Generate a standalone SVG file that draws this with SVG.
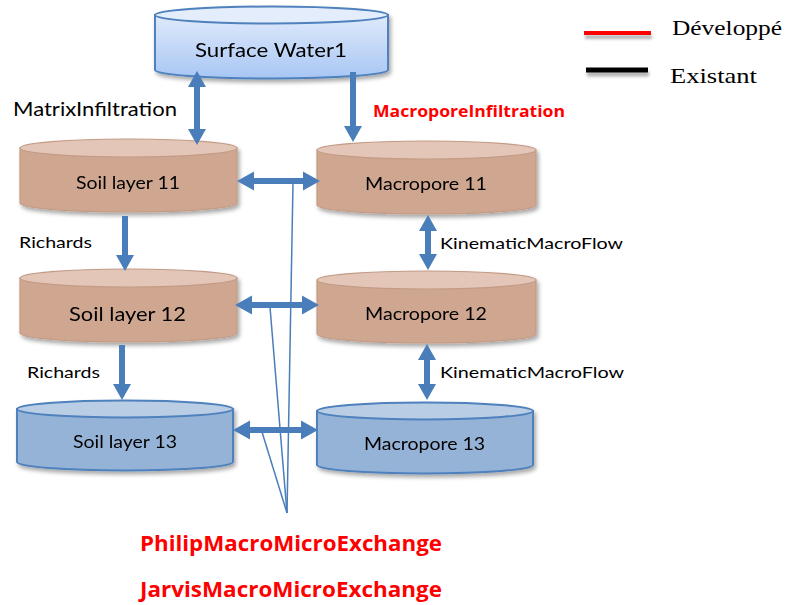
<svg xmlns="http://www.w3.org/2000/svg" width="787" height="605" viewBox="0 0 787 605">
<defs>
<linearGradient id="gSurf" x1="0" y1="0" x2="0" y2="1">
<stop offset="0" stop-color="#dfeafb"/>
<stop offset="1" stop-color="#a8c6f4"/>
</linearGradient>
<filter id="sh" x="-10%" y="-20%" width="125%" height="150%">
<feGaussianBlur in="SourceAlpha" stdDeviation="2"/>
<feOffset dx="2" dy="3" result="b"/>
<feComponentTransfer><feFuncA type="linear" slope="0.35"/></feComponentTransfer>
<feMerge><feMergeNode/><feMergeNode in="SourceGraphic"/></feMerge>
</filter>
<filter id="lsh" filterUnits="userSpaceOnUse" x="570" y="20" width="100" height="70">
<feGaussianBlur in="SourceAlpha" stdDeviation="1.5"/>
<feOffset dx="1" dy="4" result="b"/>
<feComponentTransfer><feFuncA type="linear" slope="0.3"/></feComponentTransfer>
<feMerge><feMergeNode/><feMergeNode in="SourceGraphic"/></feMerge>
</filter>
</defs>
<style>
.txt{font-family:Lato,"Open Sans","DejaVu Sans",sans-serif;fill:#000}
.red{font-family:"Open Sans",Lato,"DejaVu Sans",sans-serif;font-weight:bold;fill:#ff0000}
.leg{font-family:"Liberation Serif","Times New Roman",serif;fill:#000}
.arr{fill:#4a7ebb;stroke:none}
.thin{stroke:#4a7ebb;stroke-width:1.5;fill:none}
.soilB{fill:#cfa791;stroke:#c39b86;stroke-width:1.2}
.soilT{fill:#e3c6b7;stroke:#c39b86;stroke-width:1.2}
.blueB{fill:#95b3d7;stroke:#4f81bd;stroke-width:2}
.blueT{fill:#b9cde5;stroke:#4f81bd;stroke-width:2}
.surfB{fill:url(#gSurf);stroke:#4f81bd;stroke-width:2}
.surfT{fill:#e4edfb;stroke:#4f81bd;stroke-width:2}
</style>
<rect width="787" height="605" fill="#ffffff"/>

<g id="surface-water1" filter="url(#sh)">
<path class="surfB" d="M155,15 L155,70 A116.5,8.5 0 0 0 388,70 L388,15 Z"/>
<ellipse class="surfT" cx="271.5" cy="15" rx="116.5" ry="8.5"/>
<text class="txt" x="271" y="57" font-size="20" text-anchor="middle" textLength="152" lengthAdjust="spacingAndGlyphs">Surface Water1</text>
</g>

<g id="soil-layer-11" filter="url(#sh)">
<path class="soilB" d="M20,148 L20,203 A108.5,9 0 0 0 237,203 L237,148 Z"/>
<ellipse class="soilT" cx="128.5" cy="148" rx="108.5" ry="9"/>
<text class="txt" x="128" y="189" font-size="17" text-anchor="middle" textLength="104" lengthAdjust="spacingAndGlyphs">Soil layer 11</text>
</g>

<g id="macropore-11" filter="url(#sh)">
<path class="soilB" d="M317,150 L317,205 A109.5,9 0 0 0 536,205 L536,150 Z"/>
<ellipse class="soilT" cx="426.5" cy="150" rx="109.5" ry="9"/>
<text class="txt" x="426" y="190" font-size="17" text-anchor="middle" textLength="122" lengthAdjust="spacingAndGlyphs">Macropore 11</text>
</g>

<g id="soil-layer-12" filter="url(#sh)">
<path class="soilB" d="M20,278 L20,333 A108.5,9 0 0 0 237,333 L237,278 Z"/>
<ellipse class="soilT" cx="128.5" cy="278" rx="108.5" ry="9"/>
<text class="txt" x="127.5" y="321" font-size="20" text-anchor="middle" textLength="117" lengthAdjust="spacingAndGlyphs">Soil layer 12</text>
</g>

<g id="macropore-12" filter="url(#sh)">
<path class="soilB" d="M317,280 L317,334 A109.5,9 0 0 0 536,334 L536,280 Z"/>
<ellipse class="soilT" cx="426.5" cy="280" rx="109.5" ry="9"/>
<text class="txt" x="426" y="320" font-size="17" text-anchor="middle" textLength="122" lengthAdjust="spacingAndGlyphs">Macropore 12</text>
</g>

<g id="soil-layer-13" filter="url(#sh)">
<path class="blueB" d="M17,409 L17,462 A108,8.5 0 0 0 233,462 L233,409 Z"/>
<ellipse class="blueT" cx="125" cy="409" rx="108" ry="8.5"/>
<text class="txt" x="125" y="448" font-size="17" text-anchor="middle" textLength="104" lengthAdjust="spacingAndGlyphs">Soil layer 13</text>
</g>

<g id="macropore-13" filter="url(#sh)">
<path class="blueB" d="M317,411 L317,465 A108,8.5 0 0 0 533,465 L533,411 Z"/>
<ellipse class="blueT" cx="425" cy="411" rx="108" ry="8.5"/>
<text class="txt" x="424.5" y="450" font-size="18" text-anchor="middle" textLength="121" lengthAdjust="spacingAndGlyphs">Macropore 13</text>
</g>

<g id="connectors">
<polygon class="arr" points="197,71 206,87 200,87 200,129 206,129 197,145 188,129 194,129 194,87 188,87"/>
<polygon class="arr" points="350,72 356,72 356,126 362,126 353,142 344,126 350,126"/>
<polygon class="arr" points="122,216 128,216 128,255 134,255 125,271 116,255 122,255"/>
<polygon class="arr" points="119,345 125,345 125,384 131,384 122,400 113,384 119,384"/>
<polygon class="arr" points="428,215 437,231 431,231 431,254 437,254 428,270 419,254 425,254 425,231 419,231"/>
<polygon class="arr" points="427,344 436,360 430,360 430,384 436,384 427,400 418,384 424,384 424,360 418,360"/>
<polygon class="arr" points="237,181 254,171.5 254,178 303,178 303,171.5 320,181 303,190.5 303,184 254,184 254,190.5"/>
<polygon class="arr" points="235,305 252,295.5 252,302 302,302 302,295.5 319,305 302,314.5 302,308 252,308 252,314.5"/>
<polygon class="arr" points="233,430 250,420.5 250,427 301,427 301,420.5 318,430 301,439.5 301,433 250,433 250,439.5"/>
<line class="thin" x1="293" y1="183" x2="287" y2="513"/>
<line class="thin" x1="270" y1="307" x2="287" y2="513"/>
<line class="thin" x1="262" y1="432" x2="287" y2="513"/>
</g>

<g id="labels">
<text class="txt" x="13" y="116" font-size="19" textLength="164" lengthAdjust="spacingAndGlyphs">MatrixInfiltration</text>
<text class="red" x="373" y="117" font-size="16" textLength="192" lengthAdjust="spacingAndGlyphs">MacroporeInfiltration</text>
<text class="txt" x="19" y="248" font-size="16" textLength="73" lengthAdjust="spacingAndGlyphs">Richards</text>
<text class="txt" x="27" y="378" font-size="16" textLength="73" lengthAdjust="spacingAndGlyphs">Richards</text>
<text class="txt" x="440" y="249" font-size="16" textLength="183" lengthAdjust="spacingAndGlyphs">KinematicMacroFlow</text>
<text class="txt" x="440" y="378" font-size="16" textLength="184" lengthAdjust="spacingAndGlyphs">KinematicMacroFlow</text>
<text class="red" x="140" y="551" font-size="21" textLength="302" lengthAdjust="spacingAndGlyphs">PhilipMacroMicroExchange</text>
<text class="red" x="140" y="597" font-size="21" textLength="302" lengthAdjust="spacingAndGlyphs">JarvisMacroMicroExchange</text>
</g>

<g id="legend">
<g filter="url(#lsh)">
<rect x="584" y="31" width="67" height="4" fill="#ff0000"/>
<rect x="586" y="67.5" width="62" height="5" fill="#000000"/>
</g>
<text class="leg" x="672" y="35" font-size="22" textLength="110" lengthAdjust="spacingAndGlyphs">Développé</text>
<text class="leg" x="670" y="83" font-size="22" textLength="87" lengthAdjust="spacingAndGlyphs">Existant</text>
</g>
</svg>
